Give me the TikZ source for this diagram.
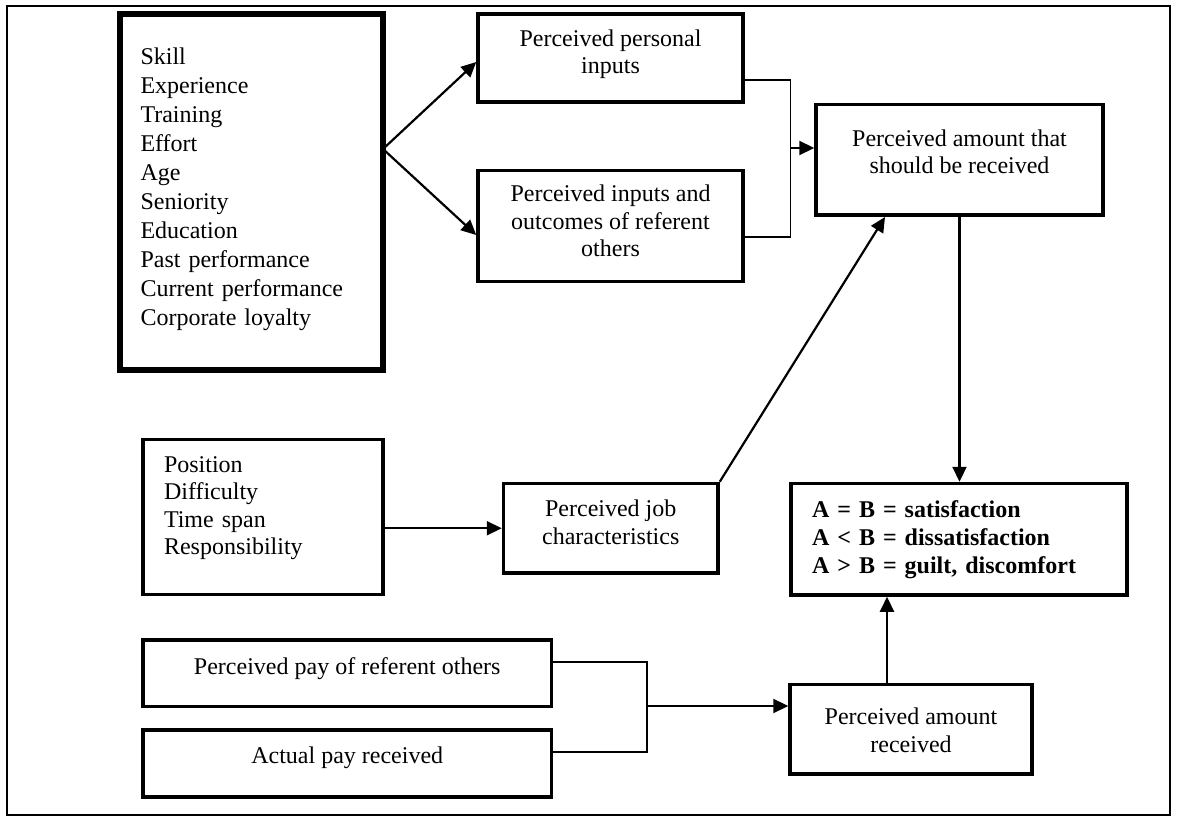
\documentclass[tikz,border=0pt]{standalone}
\usepackage{fontspec}
\setmainfont{Liberation Serif}
\usetikzlibrary{arrows.meta}
\begin{document}
\begin{tikzpicture}[x=1pt,y=-1pt,
  box/.style={draw, line width=3.5pt, inner sep=0pt, align=center,
    text height=20pt, text depth=20pt, font=\fontsize{24}{27.5}\selectfont},
  listbox/.style={box, align=left, inner xsep=21pt},
  heavybox/.style={listbox, line width=6pt, font=\fontsize{24}{29}\selectfont},
  arr/.style={line width=2.2pt, -{Triangle[length=15pt,width=14pt]}},
  link/.style={line width=1.5pt},
]
\useasboundingbox (0,0) rectangle (1181,821);
% outer frame
\draw[line width=2pt] (7,6) rectangle (1170,815);

% input factors
\node[heavybox, text width=221.5pt, minimum width=263.5pt, minimum height=356pt,
  text depth=274pt] (factors) at (251.25,192)
  {Skill\\Experience\\Training\\Effort\\Age\\Seniority\\Education\\Past performance\\Current performance\\Corporate loyalty};

\node[box, minimum width=265pt, minimum height=88pt, text height=52pt]
  (pin) at (610.5,58) {Perceived personal\\inputs};
\node[box, minimum width=265pt, minimum height=111pt, text height=82pt]
  (pref) at (610.5,226) {Perceived inputs and\\outcomes of referent\\others};
\node[box, minimum width=287pt, minimum height=110.5pt, text height=48pt]
  (should) at (959.5,160) {Perceived amount that\\should be received};

% job factors
\node[listbox, text width=198pt, minimum width=240pt, minimum height=155pt,
  text depth=110pt] (jobf) at (263,517)
  {Position\\Difficulty\\Time span\\Responsibility};
\node[box, minimum width=214.5pt, minimum height=89.5pt, text height=51.5pt]
  (job) at (610.75,528.25) {Perceived job\\characteristics};

% comparison outcome
\node[listbox, text width=294pt, minimum width=336pt, minimum height=111.5pt,
  text depth=64.5pt, font=\fontsize{24}{28}\selectfont\bfseries] (res) at (959,539.25)
  {A = B = satisfaction\\A < B = dissatisfaction\\A > B = guilt, discomfort};

% pay
\node[box, minimum width=408.5pt, minimum height=66.5pt, text depth=18.5pt]
  (pay) at (347.25,673.25) {Perceived pay of referent others};
\node[box, minimum width=408.5pt, minimum height=67pt, text depth=21pt]
  (act) at (347.25,763.5) {Actual pay received};
\node[box, minimum width=242pt, minimum height=89.5pt, text height=65.5pt]
  (amt) at (911,729.25) {Perceived amount\\received};

% junction points
\coordinate (fork) at (383,149);
\coordinate (j1) at (790.5,148);
\coordinate (j2) at (647,706);

% connectors
\draw[arr] (fork) -- (pin.west |- 0,62);
\draw[arr] (fork) -- (pref.west |- 0,235);

\draw[link] (pin.east |- 0,80) -| (j1) |- (pref.east |- 0,237);
\draw[arr] (j1) -- (should.west |- j1);

\draw[arr] (jobf.east |- job.west) -- (job.west);
\draw[arr] (job.north east) -- (should.south -| 885,0);

\draw[arr] (should.south) -- (res.north -| should.south);

\draw[link] (pay.east |- 0,662) -| (j2) |- (act.east |- 0,752);
\draw[arr] (j2) -- (amt.west |- j2);
\draw[arr] (amt.north -| 887,0) -- (res.south -| 887,0);
\end{tikzpicture}
\end{document}
